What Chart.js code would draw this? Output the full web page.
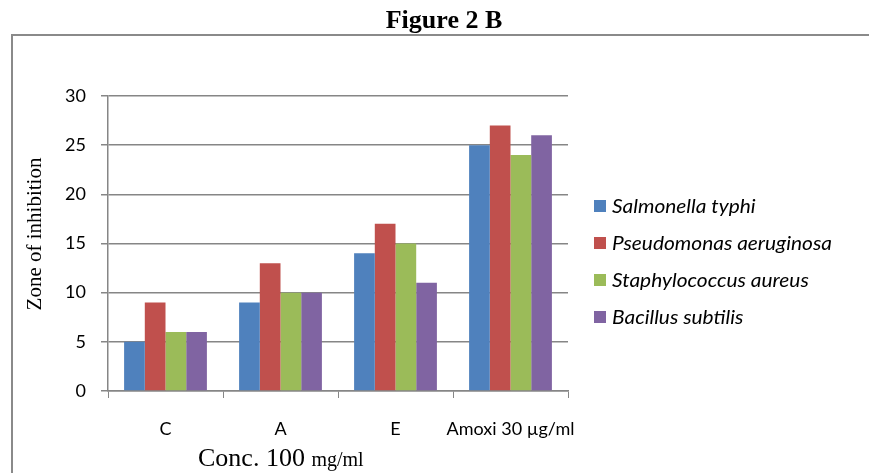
<!DOCTYPE html>
<html>
<head>
<meta charset="utf-8">
<script src="https://cdn.jsdelivr.net/npm/chart.js@4"></script>
<style>
html,body{margin:0;padding:0;background:#fff;}
#wrap{width:869px;height:473px;position:relative;}
</style>
</head>
<body>
<div id="wrap"><canvas id="c" width="869" height="473"></canvas></div>
<script>
const categories = ["C", "A", "E", "Amoxi 30 \u00b5g/ml"];
const salmonellaTyphi = [5, 9, 14, 25];
const pseudomonasAeruginosa = [9, 13, 17, 27];
const staphylococcusAureus = [6, 10, 15, 24];
const bacillusSubtilis = [6, 10, 11, 26];
const seriesNames = ["Salmonella typhi", "Pseudomonas aeruginosa", "Staphylococcus aureus", "Bacillus subtilis"];
const yTicks = [0, 5, 10, 15, 20, 25, 30];
const chartTitle = "Figure 2 B";
const yTitle = "Zone of inhibition";
const xTitleMain = "Conc. 100 ";
const xTitleUnit = "mg/ml";

const colors = ["#4F81BD", "#C0504D", "#9BBB59", "#8064A2"];
const seriesData = [salmonellaTyphi, pseudomonasAeruginosa, staphylococcusAureus, bacillusSubtilis];

const decor = {
  id: 'decor',
  beforeDraw(chart) {
    const ctx = chart.ctx;
    ctx.save();
    ctx.fillStyle = '#fff';
    ctx.fillRect(0, 0, chart.width, chart.height);
    ctx.strokeStyle = '#8a8a8a';
    ctx.lineWidth = 2;
    ctx.strokeRect(12, 35, chart.width + 20, chart.height + 20);
    ctx.restore();
  },
  afterDraw(chart) {
    const ctx = chart.ctx;
    const area = chart.chartArea;
    ctx.save();
    ctx.fillStyle = '#000';
    ctx.font = 'bold 26px "Liberation Serif", "Times New Roman", serif';
    ctx.textAlign = 'center';
    ctx.textBaseline = 'alphabetic';
    ctx.fillText(chartTitle, 444, 28);
    ctx.save();
    ctx.translate(35, 234);
    ctx.rotate(-Math.PI / 2);
    ctx.font = '21px "Liberation Serif", "Times New Roman", serif';
    ctx.textAlign = 'center';
    ctx.textBaseline = 'middle';
    ctx.fillText(yTitle, 0, 0);
    ctx.restore();
    ctx.textAlign = 'left';
    ctx.font = '26px "Liberation Serif", "Times New Roman", serif';
    const w1 = ctx.measureText(xTitleMain).width;
    ctx.fillText(xTitleMain, 198, 466);
    ctx.font = '20px "Liberation Serif", "Times New Roman", serif';
    ctx.fillText(xTitleUnit, 198 + w1, 466);
    const lx = area.right + 26;
    const ly0 = 206;
    const step = 37;
    chart.data.datasets.forEach((ds, i) => {
      const cy = ly0 + i * step;
      ctx.fillStyle = ds.backgroundColor;
      ctx.fillRect(lx, cy - 6, 12, 12);
      ctx.fillStyle = '#000';
      ctx.font = 'italic 18.5px Lato, "Open Sans", sans-serif';
      ctx.textBaseline = 'middle';
      ctx.save();
      ctx.translate(lx + 18, cy + 1);
      ctx.scale(1.13, 1);
      ctx.fillText(ds.label, 0, 0);
      ctx.restore();
    });
    ctx.restore();
  }
};

new Chart(document.getElementById('c'), {
  type: 'bar',
  data: {
    labels: categories,
    datasets: seriesNames.map((name, i) => ({
      label: name,
      data: seriesData[i],
      backgroundColor: colors[i],
      borderWidth: 0,
      barPercentage: 1.0,
      categoryPercentage: 0.72
    }))
  },
  options: {
    responsive: false,
    animation: false,
    devicePixelRatio: 1,
    layout: { padding: { left: 0, top: 96, right: 301, bottom: 0 } },
    plugins: {
      legend: { display: false },
      title: { display: false },
      tooltip: { enabled: false }
    },
    scales: {
      x: {
        offset: true,
        afterFit(scale) { scale.height = 82; },
        grid: {
          display: true,
          offset: true,
          drawOnChartArea: false,
          drawTicks: true,
          tickLength: 7,
          color: '#868686',
          lineWidth: 1
        },
        border: { display: true, color: '#868686', width: 1.5 },
        ticks: {
          color: '#000',
          font: { family: 'Lato, "Open Sans", sans-serif', size: 18 },
          padding: 20,
          maxRotation: 0,
          autoSkip: false
        }
      },
      y: {
        min: 0,
        max: 30,
        afterFit(scale) { scale.width = 108; },
        afterBuildTicks(scale) { scale.ticks = yTicks.map(v => ({ value: v })); },
        grid: {
          color: '#868686',
          lineWidth: 1.5,
          tickLength: 7,
          drawTicks: true
        },
        border: { display: true, color: '#868686', width: 1.5 },
        ticks: {
          color: '#000',
          font: { family: 'Lato, "Open Sans", sans-serif', size: 18 },
          padding: 15
        }
      }
    }
  },
  plugins: [decor]
});
</script>
</body>
</html>
